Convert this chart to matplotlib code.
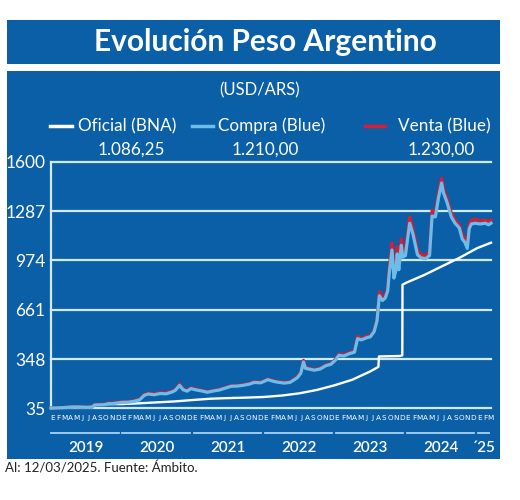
import matplotlib
matplotlib.use('Agg')
import matplotlib.pyplot as plt
import matplotlib.dates as mdates
from matplotlib.transforms import blended_transform_factory
from matplotlib.patches import Rectangle
from matplotlib.lines import Line2D
import pandas as pd

# --- data ---
blue_dates = [
    '2019-01-01', '2019-02-01', '2019-03-01', '2019-04-01', '2019-05-01', '2019-06-01',
    '2019-07-01', '2019-08-01', '2019-08-13', '2019-09-01', '2019-10-01', '2019-10-25',
    '2019-11-15', '2019-12-01', '2020-01-01', '2020-02-01', '2020-03-01', '2020-04-01',
    '2020-04-25', '2020-05-15', '2020-06-15', '2020-07-15', '2020-08-15', '2020-09-15',
    '2020-10-01', '2020-10-23', '2020-11-10', '2020-12-01', '2020-12-20', '2021-01-15',
    '2021-02-15', '2021-03-15', '2021-04-15', '2021-05-15', '2021-06-15', '2021-07-15',
    '2021-08-15', '2021-09-15', '2021-10-15', '2021-11-10', '2021-12-15', '2022-01-20',
    '2022-02-15', '2022-03-15', '2022-04-15', '2022-05-15', '2022-06-20', '2022-07-08',
    '2022-07-22', '2022-08-01', '2022-08-20', '2022-09-15', '2022-10-15', '2022-11-15',
    '2022-12-10', '2023-01-01', '2023-01-20', '2023-02-15', '2023-03-15', '2023-04-10',
    '2023-04-26', '2023-05-15', '2023-06-15', '2023-07-01', '2023-07-20', '2023-08-04',
    '2023-08-16', '2023-09-01', '2023-09-15', '2023-09-28', '2023-10-06', '2023-10-20',
    '2023-10-30', '2023-11-08', '2023-11-16', '2023-11-24', '2023-12-07', '2023-12-14',
    '2023-12-28', '2024-01-19', '2024-02-05', '2024-02-28', '2024-03-18', '2024-04-10',
    '2024-04-30', '2024-05-13', '2024-05-30', '2024-06-15', '2024-07-01', '2024-07-10',
    '2024-07-28', '2024-08-20', '2024-09-08', '2024-09-30', '2024-10-15', '2024-10-28',
    '2024-11-10', '2024-11-20', '2024-12-01', '2024-12-20', '2025-01-15', '2025-02-10',
    '2025-02-28', '2025-03-12',
]
venta_blue = [
    38, 39.5, 41, 44, 46, 45,
    43, 45, 60, 61, 62, 70,
    70, 73, 78, 79, 84, 95,
    125, 133, 128, 136, 134, 145,
    155, 190, 160, 150, 166, 158,
    150, 142, 150, 156, 168, 180,
    181, 186, 193, 205, 202, 222,
    212, 205, 200, 205, 235, 265,
    340, 296, 290, 283, 290, 312,
    320, 346, 380, 375, 390, 398,
    492, 478, 494, 495, 530, 600,
    775, 735, 750, 800, 930, 1085,
    900, 940, 1060, 950, 1110, 1030,
    1040, 1250, 1170, 1040, 1010, 1005,
    1030, 1290, 1280, 1400, 1495, 1430,
    1370, 1275, 1230, 1200, 1135, 1115,
    1072, 1200, 1230, 1235, 1225, 1230,
    1220, 1230,
]
compra_blue = [
    37, 38.5, 40, 43, 45, 44,
    42, 44, 57, 58, 59, 66,
    66, 69, 74, 75, 80, 90,
    119, 127, 122, 130, 128, 140,
    150, 182, 154, 145, 161, 153,
    146, 138, 146, 152, 164, 176,
    177, 182, 189, 200, 198, 218,
    208, 201, 196, 201, 230, 258,
    330, 290, 285, 278, 285, 307,
    315, 340, 372, 368, 383, 392,
    478, 470, 485, 490, 522, 590,
    750, 720, 735, 780, 895, 1040,
    862, 905, 1015, 915, 1070, 995,
    1005, 1210, 1140, 1010, 990, 985,
    1005, 1255, 1250, 1370, 1465, 1405,
    1345, 1250, 1210, 1180, 1110, 1090,
    1050, 1175, 1205, 1210, 1205, 1210,
    1200, 1210,
]

oficial_dates = [
    '2019-01-01', '2019-03-01', '2019-04-15', '2019-07-15', '2019-08-09', '2019-08-13',
    '2019-09-01', '2019-10-28', '2019-12-31', '2020-03-31', '2020-06-30', '2020-09-30',
    '2020-12-31', '2021-03-31', '2021-06-30', '2021-09-30', '2021-12-31', '2022-03-31',
    '2022-06-30', '2022-09-30', '2022-12-31', '2023-03-31', '2023-06-30', '2023-08-11',
    '2023-08-14', '2023-11-30', '2023-12-12', '2023-12-13', '2023-12-31', '2024-03-31',
    '2024-06-30', '2024-09-30', '2024-12-31', '2025-03-12',
]
oficial_bna = [
    38.5, 40, 45, 44, 46, 57,
    59, 63, 63, 68, 74, 80,
    89, 97, 101, 104, 108, 117,
    131, 153, 183, 218, 270, 299,
    365, 368, 372, 820, 832, 880,
    935, 990, 1052, 1086.25,
]

y_ticks = [35, 348, 661, 974, 1287, 1600]
month_letters = ['E', 'F', 'M', 'A', 'M', 'J', 'J', 'A', 'S', 'O', 'N', 'D']
years = ['2019', '2020', '2021', '2022', '2023', '2024', '´25']
legend_names = ['Oficial (BNA)', 'Compra (Blue)', 'Venta (Blue)']
legend_values = ['1.086,25', '1.210,00', '1.230,00']

BG = '#0a5fa6'
GRID = '#d2e9f8'
C_OFICIAL = '#ffffff'
C_COMPRA = '#6cbdea'
C_VENTA = '#d81e34'
FONT = ['Lato', 'DejaVu Sans']
NARROW = ['DejaVu Sans Condensed', 'DejaVu Sans']

W, H = 520, 500
fig = plt.figure(figsize=(W / 100, H / 100), dpi=100)
fig.patch.set_facecolor('white')


def fx(px):
    return px / W


def fy(py):
    return 1 - py / H


# title box and panel
fig.add_artist(Rectangle((fx(7), fy(64)), fx(493), 44 / H, transform=fig.transFigure,
                         facecolor=BG, edgecolor='none', zorder=0))
fig.add_artist(Rectangle((fx(7), fy(459)), fx(493), 388 / H, transform=fig.transFigure,
                         facecolor=BG, edgecolor='none', zorder=0))
fig.text(fx(265), fy(42), 'Evolución Peso Argentino', color='white', fontsize=21.5,
         fontweight='bold', family=FONT, ha='center', va='center')
fig.text(fx(260), fy(90), '(USD/ARS)', color='white', fontsize=12, family=FONT,
         ha='center', va='center')

# legend row
leg_lines = [(50, 72, C_OFICIAL), (192, 213, C_COMPRA), (365, 385, C_VENTA)]
leg_text_x = [78, 218, 398]
leg_value_x = [131, 265, 441]
for (x0, x1, col), tx, vx, name, val in zip(leg_lines, leg_text_x, leg_value_x,
                                          legend_names, legend_values):
    fig.add_artist(Line2D([fx(x0), fx(x1)], [fy(126), fy(126)], color=col, lw=2.5,
                          transform=fig.transFigure))
    fig.text(fx(tx), fy(126), name, color='white', fontsize=12.3, family=FONT,
             ha='left', va='center')
    fig.text(fx(vx), fy(150), val, color='white', fontsize=12.3, family=FONT,
             ha='center', va='center')

# chart
ax = fig.add_axes([fx(51), fy(408.5), fx(440), (408.5 - 161.7) / H])
ax.patch.set_alpha(0)
bd = pd.to_datetime(blue_dates)
od = pd.to_datetime(oficial_dates)
x_start = pd.Timestamp('2019-01-01')
x_end = pd.Timestamp('2025-03-12')
ax.set_xlim(x_start, x_end)
ax.set_ylim(35, 1600)

for t in y_ticks:
    ax.axhline(t, color=GRID, lw=1.6, zorder=1, clip_on=False)
for s in ['top', 'right', 'bottom']:
    ax.spines[s].set_visible(False)
ax.spines['left'].set_color(GRID)
ax.spines['left'].set_linewidth(1.6)

ax.plot(od, oficial_bna, color=C_OFICIAL, lw=1.7, zorder=3, clip_on=False)
ax.plot(bd, venta_blue, color=C_VENTA, lw=2.3, zorder=4, clip_on=False)
ax.plot(bd, compra_blue, color=C_COMPRA, lw=2.3, zorder=5, clip_on=False)

ax.set_yticks(y_ticks)
ax.set_yticklabels([str(t) for t in y_ticks], family=FONT)
ax.tick_params(axis='y', length=0, labelcolor='white', labelsize=12.5, pad=4)
ax.set_xticks([])

# month letters, year underlines and year labels
tr = blended_transform_factory(ax.transData, fig.transFigure)
months = pd.date_range('2019-01-01', '2025-03-01', freq='MS')
for m in months:
    ax.text(m + pd.Timedelta(days=9), fy(418), month_letters[m.month - 1], color='white',
            fontsize=5.2, family=NARROW, ha='center', va='center', transform=tr)

for i, yl in enumerate(years):
    yr = 2019 + i
    a = pd.Timestamp(f'{yr}-01-01')
    b = pd.Timestamp(f'{yr}-12-25') if yr < 2025 else pd.Timestamp('2025-03-12')
    ax.add_line(Line2D([mdates.date2num(a + pd.Timedelta(days=2)),
                        mdates.date2num(b - pd.Timedelta(days=8))],
                       [fy(433), fy(433)], color='#a9d3f0', lw=1.3, transform=tr,
                       clip_on=False))
    mid = a + (b - a) / 2
    ax.text(mid, fy(448), yl, color='white', fontsize=11, fontweight='semibold',
            family=FONT, ha='center', va='center', transform=tr)

fig.text(fx(5), fy(468), 'Al: 12/03/2025. Fuente: Ámbito.', color='#222222',
         fontsize=9.5, family=FONT, ha='left', va='center')

fig.savefig('out.png', dpi=100, facecolor='white')
